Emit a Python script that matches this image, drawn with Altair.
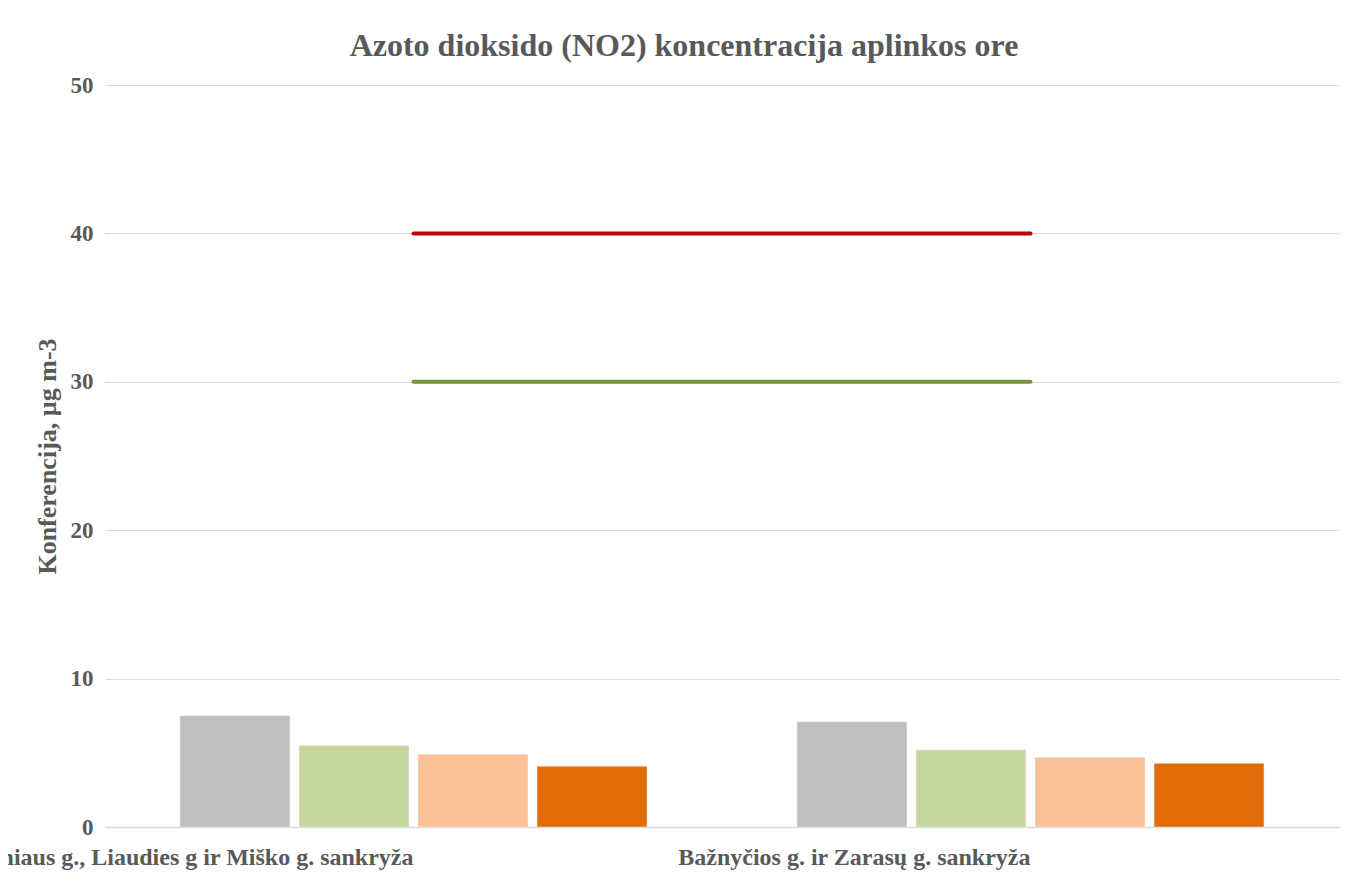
import altair as alt
import pandas as pd

categories = ["Vilniaus g., Liaudies g ir Miško g. sankryža", "Bažnyčios g. ir Zarasų g. sankryža"]
series = ["Serija 1", "Serija 2", "Serija 3", "Serija 4"]
values_cat1 = [7.5, 5.5, 4.9, 4.1]
values_cat2 = [7.1, 5.2, 4.7, 4.3]
bar_colors = ["#bfbfbf", "#c6d69f", "#f9c195", "#e36c0a"]

limit_names = ["Ribinė vertė", "Kritinis lygis"]
limit_values = [40, 30]
limit_colors = ["#c00000", "#77933c"]

rows = []
for s, v in zip(series, values_cat1):
    rows.append({"cat": categories[0], "series": s, "value": v})
for s, v in zip(series, values_cat2):
    rows.append({"cat": categories[1], "series": s, "value": v})
bars_df = pd.DataFrame(rows)

lines_df = pd.DataFrame({
    "name": limit_names,
    "start": [categories[0]] * 2,
    "end": [categories[1]] * 2,
    "value": limit_values,
})

FONT = "Liberation Serif, Times New Roman, serif"
TXT = "#595959"

x_scale = alt.Scale(domain=categories, paddingInner=0.243, paddingOuter=0.1215)
y_scale = alt.Scale(domain=[0, 50])

bars = alt.Chart(bars_df).mark_bar(stroke="#f2f2f2", strokeWidth=0.5).encode(
    x=alt.X("cat:N", scale=x_scale, sort=categories, title=None,
            axis=alt.Axis(labelAlign="right", labelAngle=0, labelFont=FONT, labelFontSize=24,
                          labelFontWeight="bold", labelColor=TXT, labelPadding=18,
                          labelLimit=0, labelOverlap=False, labelBound=False,
                          ticks=False, domainColor="#d9d9d9", domainWidth=1.5)),
    xOffset=alt.XOffset("series:N", sort=series,
                        scale=alt.Scale(paddingInner=0.0756, paddingOuter=0)),
    y=alt.Y("value:Q", scale=y_scale,
            title="Konferencija, µg m-3",
            axis=alt.Axis(values=[0, 10, 20, 30, 40, 50], labelFont=FONT, labelFontSize=23,
                          labelFontWeight="bold", labelColor=TXT, labelPadding=12,
                          ticks=False, domain=False, gridColor="#d9d9d9", gridWidth=1.2,
                          titleFont=FONT, titleFontSize=26, titleFontWeight="bold",
                          titleColor=TXT, titlePadding=10)),
    color=alt.Color("series:N", sort=series,
                    scale=alt.Scale(domain=series, range=bar_colors), legend=None),
)

lines = alt.Chart(lines_df).mark_rule(strokeWidth=4, strokeCap="round").encode(
    x=alt.X("start:N", scale=x_scale, sort=categories),
    x2="end:N",
    y=alt.Y("value:Q", scale=y_scale),
    color=alt.Color("name:N", scale=alt.Scale(domain=limit_names, range=limit_colors), legend=None),
)

chart = alt.layer(bars, lines).resolve_scale(color="independent").properties(
    width=1234,
    height=742,
    autosize=alt.AutoSizeParams(type="none"),
    padding={"left": 97, "top": 77, "right": 2, "bottom": 57},
    title=alt.Title("Azoto dioksido (NO2) koncentracija aplinkos ore", font=FONT,
                    fontSize=32, fontWeight="bold", color=TXT, offset=11, dx=-38),
).configure(background="white").configure_view(stroke=None, strokeWidth=0)

chart.save("out.html", embed_options={"renderer": "svg", "actions": False})
